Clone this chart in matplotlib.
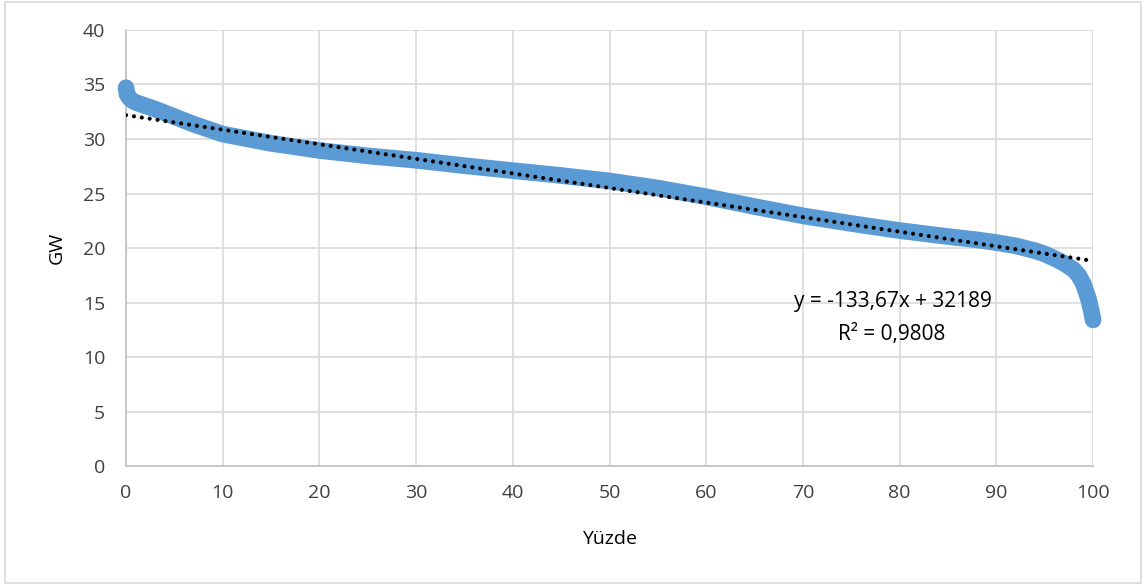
import matplotlib
matplotlib.use('Agg')
import matplotlib.pyplot as plt
from matplotlib.patches import Rectangle

plt.rcParams['font.family'] = ['Open Sans', 'DejaVu Sans']

# Yük süresi eğrisi (yüzde, GW)
yuzde = [0, 0.1, 0.3, 0.6, 1, 2, 3, 5, 7, 10, 15, 20, 25, 30, 35, 40, 45,
         50, 55, 60, 65, 70, 75, 80, 85, 88, 90, 92, 94, 95, 96, 97, 98,
         98.5, 99, 99.5, 99.8, 100]
gw = [34.7, 34.1, 33.8, 33.55, 33.35, 33.05, 32.75, 32.05, 31.35, 30.45,
      29.6, 28.95, 28.45, 28.05, 27.55, 27.1, 26.65, 26.15, 25.5, 24.7,
      23.8, 22.95, 22.25, 21.6, 21.05, 20.75, 20.5, 20.2, 19.75, 19.45,
      19.05, 18.6, 18.0, 17.5, 16.7, 15.4, 14.3, 13.4]

# Doğrusal eğilim çizgisi uç noktaları
trend_x = [0, 100]
trend_y = [32.19, 18.82]

esitlik = 'y = -133,67x + 32189'
r_kare = 'R² = 0,9808'

fig = plt.figure(figsize=(11.47, 5.87), dpi=100)
ax = fig.add_axes([0.1099, 0.2061, 0.8431, 0.7428])

ax.plot(yuzde, gw, color='#5b9bd5', linewidth=12, solid_capstyle='round',
        solid_joinstyle='round', zorder=3, clip_on=False)
ax.plot(trend_x, trend_y, color='black', linestyle=(0, (0.01, 1.9)), linewidth=3,
        dash_capstyle='round', zorder=4)

ax.set_xlim(0, 100)
ax.set_ylim(0, 40)
ax.set_xticks(range(0, 101, 10))
ax.set_yticks(range(0, 41, 5))
ax.grid(True, color='#d9d9d9', linewidth=1.2)
ax.set_axisbelow(True)
ax.tick_params(length=0, labelsize=14, colors='#404040')
ax.tick_params(axis='x', pad=13)
ax.tick_params(axis='y', pad=15)
for s in ['top', 'right']:
    ax.spines[s].set_visible(False)
for s in ['left', 'bottom']:
    ax.spines[s].set_color('#bfbfbf')
    ax.spines[s].set_linewidth(1.2)

ax.set_xlabel('Yüzde', fontsize=14, color='black', labelpad=20)
ax.set_ylabel('GW', fontsize=14, color='black', labelpad=12)

ax.text(79.3, 15.05, esitlik, fontsize=15, ha='center', va='center')
ax.text(79.2, 12.1, r_kare, fontsize=15, ha='center', va='center')

fig.patches.append(Rectangle((0.004, 0.006), 0.991, 0.99, transform=fig.transFigure,
                             fill=False, edgecolor='#d9d9d9', linewidth=1.2))

plt.savefig('out.png', dpi=100)
